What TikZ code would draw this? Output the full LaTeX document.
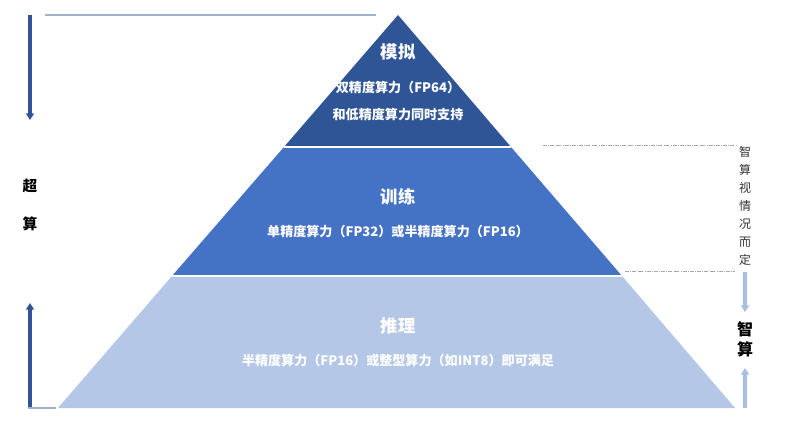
\documentclass[tikz,border=0pt]{standalone}
\usepackage{fontspec}
\setmainfont{Noto Sans CJK SC}
\usetikzlibrary{arrows.meta}
\definecolor{dk}{HTML}{2F5597}
\definecolor{md}{HTML}{4472C4}
\definecolor{lt}{HTML}{B4C7E7}
\definecolor{ar}{HTML}{2F5597}
\definecolor{la}{HTML}{A9BFE0}
\tikzset{ttl/.style={text=white,font=\bfseries\fontsize{13}{15}\selectfont},
 sub/.style={text=white,font=\bfseries\fontsize{9.8}{20}\selectfont,align=center},
 side/.style={font=\bfseries\fontsize{11}{14}\selectfont,align=center},
 dsh/.style={draw=gray!70,densely dashdotted,line width=0.6pt}}
\begin{document}
\begin{tikzpicture}[x=0.75pt,y=-0.75pt]
\useasboundingbox (0,0) rectangle (800,433);
\coordinate (A) at (398,15);
\coordinate (B1) at (284,147); \coordinate (B2) at (511,147);
\coordinate (C1) at (172,276); \coordinate (C2) at (622,276);
\coordinate (D1) at (58,408); \coordinate (D2) at (735,408);
\fill[lt] (C1)--(C2)--(D2)--(D1)--cycle;
\fill[md] (B1)--(B2)--(C2)--(C1)--cycle;
\fill[dk] (A)--(B2)--(B1)--cycle;
\draw[white,line width=0.8pt] (B1)--(B2) (C1)--(C2);
\node[ttl] (t1) at (398,52) {模拟};
\node[sub] (s1) at (398,101) {双精度算力（FP64）\\和低精度算力同时支持};
\node[ttl] (t2) at (398,197) {训练};
\node[sub] (s2) at (398,232) {单精度算力（FP32）或半精度算力（FP16）};
\node[ttl] (t3) at (398,326) {推理};
\node[sub] (s3) at (398,361) {半精度算力（FP16）或整型算力（如INT8）即可满足};
% left
\coordinate (l1) at (30,15); \coordinate (l2) at (30,120);
\coordinate (l3) at (30,408); \coordinate (l4) at (30,303);
\draw[ar,line width=2.5pt,-{Triangle[length=5pt,width=6pt]}] (l1)--(l2);
\draw[ar,line width=2.5pt,-{Triangle[length=5pt,width=6pt]}] (l3)--(l4);
\draw[la!80!gray,line width=1pt] (45,15)--(376,15);
\draw[la!80!gray,line width=1pt] (28,408)--(56,408);
\node[side] (sc) at (30,205) {超\\[14pt]算};
% right
\draw[dsh] (543,145)--(737,145);
\draw[dsh] (625,271)--(735,271);
\node[font=\fontsize{9}{13.5}\selectfont,align=center,text=black!80] (zv) at (745,206) {智\\算\\视\\情\\况\\而\\定};
\coordinate (r1) at (745,272); \coordinate (r2) at (745,312);
\coordinate (r3) at (745,408); \coordinate (r4) at (745,368);
\draw[la,line width=2.5pt,-{Triangle[length=5pt,width=6pt]}] (r1)--(r2);
\draw[la,line width=2.5pt,-{Triangle[length=5pt,width=6pt]}] (r3)--(r4);
\node[side,font=\bfseries\fontsize{12}{15}\selectfont] (zs) at (745,339) {智\\算};
\end{tikzpicture}
\end{document}
